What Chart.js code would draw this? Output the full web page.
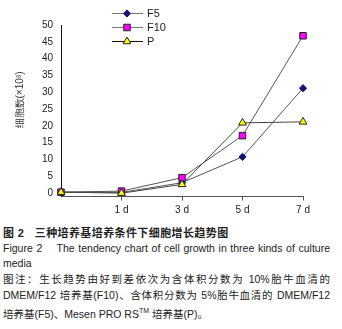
<!DOCTYPE html>
<html>
<head>
<meta charset="utf-8">
<script src="https://cdn.jsdelivr.net/npm/chart.js@4.4.0/dist/chart.umd.min.js"></script>
<style>
  body { margin:0; background:#fff; width:342px; height:329px; overflow:hidden; position:relative; }
  #wrap { position:absolute; left:0; top:0; width:342px; height:222px; }
  .cap { position:absolute; left:3px; width:327px; font-size:10.5px; line-height:15px; color:#222;
         font-family:"Liberation Sans","Noto Sans CJK SC",sans-serif; white-space:nowrap; }
  .j { text-align:justify; text-align-last:justify; }
  .b { font-weight:bold; font-size:11px; letter-spacing:0.4px; }
</style>
</head>
<body>
<div id="wrap"><canvas id="growth"></canvas></div>
<div class="cap b" style="top:226px">图 2&nbsp;&nbsp;&nbsp;三种培养基培养条件下细胞增长趋势图</div>
<div class="cap j" style="top:241px">Figure 2&nbsp;&nbsp;&nbsp; The tendency chart of cell growth in three kinds of culture</div>
<div class="cap" style="top:256px">media</div>
<div class="cap j" style="top:272px">图注：生长趋势由好到差依次为含体积分数为 10%胎牛血清的</div>
<div class="cap j" style="top:288px">DMEM/F12 培养基(F10)、含体积分数为 5%胎牛血清的 DMEM/F12</div>
<div class="cap" style="top:303px">培养基(F5)、Mesen PRO RS<sup style="font-size:7px">TM</sup> 培养基(P)。</div>

<script>
// Data
const days = ["", "1 d", "3 d", "5 d", "7 d"];
const f5  = [0.3, 0.2, 3.1, 10.8, 31.2];
const f10 = [0.3, 0.6, 4.6, 17.1, 46.8];
const pVals = [0.3, 0.0, 2.6, 20.9, 21.2];
const yTicks = [0, 5, 10, 15, 20, 25, 30, 35, 40, 45, 50];

const FONT = "'Liberation Sans', Arial, sans-serif";

// legend + y title drawn by hand
const extras = {
  id: "extras",
  afterDraw(chart) {
    const ctx = chart.ctx;
    const rows = [chart.data.datasets[2], chart.data.datasets[1], chart.data.datasets[0]]; // F5, F10, P
    const ys = [13, 27, 41];
    ctx.save();
    rows.forEach((ds, i) => {
      const y = ys[i];
      ctx.strokeStyle = ds.legendLine;
      ctx.lineWidth = 1;
      ctx.beginPath();
      ctx.moveTo(112, y + 0.5);
      ctx.lineTo(143, y + 0.5);
      ctx.stroke();
      ctx.fillStyle = ds.pointBackgroundColor;
      ctx.strokeStyle = ds.pointBorderColor;
      ctx.lineWidth = 1;
      Chart.helpers.drawPoint(ctx, { pointStyle: ds.pointStyle, radius: ds.pointRadius, rotation: 0, borderWidth: 1 }, 127, y + 0.5);
      ctx.fillStyle = "#222";
      ctx.font = "11px " + FONT;
      ctx.textBaseline = "middle";
      ctx.fillText(ds.label, 147, y + 1);
    });
    // y axis title
    ctx.translate(20, 100);
    ctx.rotate(-Math.PI / 2);
    ctx.textAlign = "center";
    ctx.textBaseline = "middle";
    ctx.font = "10px " + FONT;
    ctx.fillStyle = "#333";
    ctx.fillText("细胞数(×10³)", 0, 0);
    ctx.restore();
  }
};

const growth = new Chart(document.getElementById("growth"), {
  type: "line",
  data: {
    labels: days,
    datasets: [
      { label: "P", data: pVals, order: 0, borderColor: "#444", legendLine: "#111", borderWidth: 1,
        pointStyle: "triangle", pointRadius: 4.5, pointBackgroundColor: "#ffff00", pointBorderColor: "#222", pointBorderWidth: 1 },
      { label: "F10", data: f10, order: 1, borderColor: "#555", legendLine: "#777", borderWidth: 1,
        pointStyle: "rect", pointRadius: 4.6, pointBackgroundColor: "#ff00ff", pointBorderColor: "#222", pointBorderWidth: 1 },
      { label: "F5", data: f5, order: 2, borderColor: "#555", legendLine: "#777", borderWidth: 1,
        pointStyle: "rectRot", pointRadius: 3.6, pointBackgroundColor: "#14147a", pointBorderColor: "#14147a", pointBorderWidth: 1 }
    ]
  },
  options: {
    responsive: true,
    maintainAspectRatio: false,
    animation: false,
    layout: { padding: { top: 25, right: 39, left: 0, bottom: 0 } },
    plugins: { legend: { display: false }, tooltip: { enabled: false } },
    elements: { line: { tension: 0 } },
    scales: {
      x: {
        offset: false,
        afterFit: s => { s.height = 25.5; },
        grid: { drawOnChartArea: false, tickLength: 4, tickColor: c => c.index === 0 ? "rgba(0,0,0,0)" : "#555" },
        border: { color: "#555", width: 1 },
        ticks: { font: { family: FONT, size: 10 }, color: "#222", padding: 4, maxRotation: 0, autoSkip: false }
      },
      y: {
        min: -1,
        max: 50,
        afterBuildTicks: s => { s.ticks = yTicks.map(v => ({ value: v })); },
        afterFit: s => { s.width = 61; },
        grid: { drawOnChartArea: false, drawTicks: false },
        border: { color: "#111", width: 1 },
        ticks: { font: { family: FONT, size: 10 }, color: "#222", padding: 8 }
      }
    }
  },
  plugins: [extras]
});
</script>
</body>
</html>
